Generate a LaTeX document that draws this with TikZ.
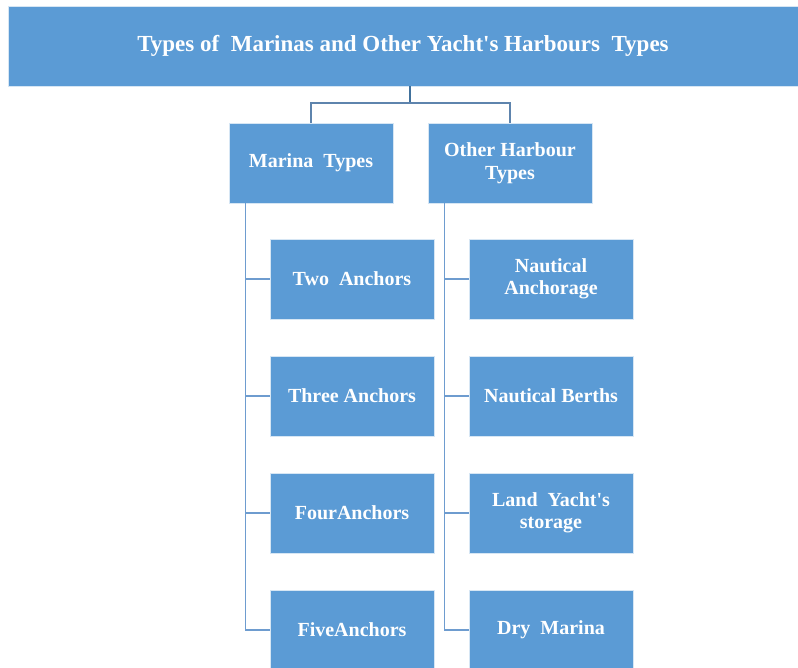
\documentclass[tikz,border=0pt]{standalone}
\usepackage{fontspec}
\setmainfont{Liberation Serif}[Ligatures=TeXOff]
\definecolor{boxblue}{HTML}{5B9BD5}
\definecolor{lineblue}{HTML}{6E9CCF}
\definecolor{trunkblue}{HTML}{41719C}
\definecolor{barblue}{HTML}{5E84AD}
\begin{document}
\begin{tikzpicture}[x=1pt,y=-1pt,
  box/.style={fill=boxblue, draw=white!75!boxblue, line width=0.8pt, minimum width=164pt, minimum height=80pt, text=white, align=center, inner sep=2pt, font=\bfseries\fontsize{20}{22.5}\selectfont},
  titlebox/.style={fill=boxblue, draw=white!75!boxblue, line width=0.8pt, minimum width=790pt, minimum height=80pt, text=white, inner sep=0pt, font=\bfseries\fontsize{23}{26}\selectfont},
  conn/.style={draw=lineblue, line width=1.3pt},
  trunk/.style={draw=trunkblue, line width=2.6pt},
  bar/.style={draw=barblue, line width=1.4pt}]
\useasboundingbox (0,0) rectangle (798,667);
\clip (0,0) rectangle (798,667);
\node[titlebox] (top) at (403,46) {Types of\ \ Marinas and Other Yacht's Harbours\ \ Types};
\node[box] (mt) at (311,163) {Marina\ \ Types};
\node[box] (oh) at (510,163) {Other Harbour\\Types};
\node[box] (a2) at (352,279) {Two\ \ Anchors};
\node[box] (a3) at (352,396) {Three Anchors};
\node[box] (a4) at (352,513) {FourAnchors};
\node[box] (a5) at (352,630) {FiveAnchors};
\node[box] (na) at (551,279) {Nautical\\Anchorage};
\node[box] (nb) at (551,396) {Nautical Berths};
\node[box] (ly) at (551,513) {Land\ \ Yacht's\\storage};
\node[box] (dm) at (551,630) {Dry\ \ Marina};
\coordinate (hub) at (410,103);
\draw[trunk] (top.south -| hub) -- (hub);
\draw[bar] (mt.north) |- (hub) -| (oh.north);
\draw[conn] ([xshift=17pt]mt.south west) |- (a2.west);
\draw[conn] ([xshift=17pt]mt.south west) |- (a3.west);
\draw[conn] ([xshift=17pt]mt.south west) |- (a4.west);
\draw[conn] ([xshift=17pt]mt.south west) |- (a5.west);
\draw[conn] ([xshift=17pt]oh.south west) |- (na.west);
\draw[conn] ([xshift=17pt]oh.south west) |- (nb.west);
\draw[conn] ([xshift=17pt]oh.south west) |- (ly.west);
\draw[conn] ([xshift=17pt]oh.south west) |- (dm.west);
\end{tikzpicture}
\end{document}
